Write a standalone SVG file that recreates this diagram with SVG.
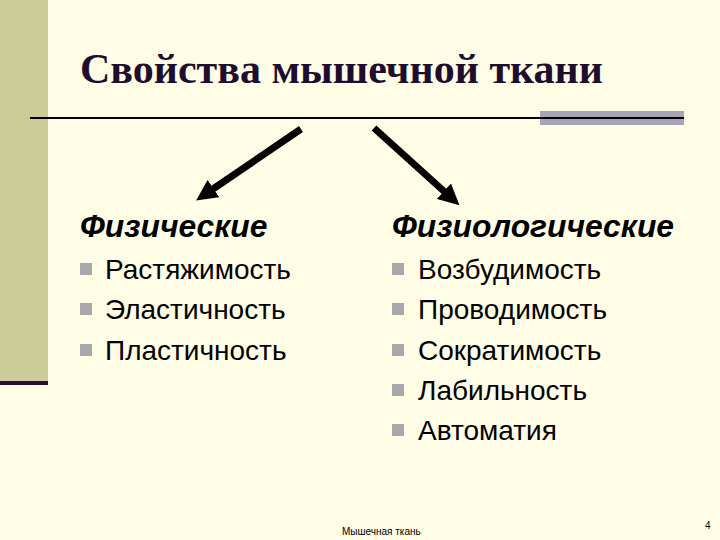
<svg xmlns="http://www.w3.org/2000/svg" width="720" height="540" viewBox="0 0 720 540">
<style>
.title{font-family:"Liberation Serif",serif;font-weight:bold;font-size:42px;fill:#1e0d2c}
.head{font-family:"Liberation Sans",sans-serif;font-weight:bold;font-style:italic;font-size:31.8px;fill:#000}
.item{font-family:"Liberation Sans",sans-serif;font-size:28px;fill:#000}
.small{font-family:"Liberation Sans",sans-serif;font-size:10px;fill:#000}
.bul{fill:#a8a8a8}
.arrow{stroke:#000;stroke-width:7;fill:none}
</style>
<defs>
<marker id="ah" viewBox="0 0 10 10" refX="2" refY="5" markerWidth="3" markerHeight="3" orient="auto" markerUnits="strokeWidth">
<path d="M0,0 L10,5 L0,10 z" fill="#000"/>
</marker>
</defs>
<rect width="720" height="540" fill="#fffde6"/>
<rect x="0" y="0" width="48" height="382" fill="#cccc99"/>
<rect x="0" y="381" width="48" height="4" fill="#2a0f30"/>
<rect x="540" y="111" width="144" height="14" fill="#a8a4b8"/>
<line x1="30" y1="118" x2="684" y2="118" stroke="#000" stroke-width="2"/>
<g id="title"><text class="title" x="80" y="83">Свойства мышечной ткани</text></g>
<g id="connectors">
<line class="arrow" x1="301" y1="129" x2="210" y2="191" marker-end="url(#ah)"/>
<line class="arrow" x1="374" y1="128" x2="447" y2="194" marker-end="url(#ah)"/>
</g>
<g id="physical">
<text class="head" x="80" y="237">Физические</text>
<rect class="bul" x="80" y="263" width="12" height="12"/>
<text class="item" x="105" y="279">Растяжимость</text>
<rect class="bul" x="80" y="303" width="12" height="12"/>
<text class="item" x="105" y="319">Эластичность</text>
<rect class="bul" x="80" y="344" width="12" height="12"/>
<text class="item" x="105" y="360">Пластичность</text>
</g>
<g id="physiological">
<text class="head" x="392" y="237">Физиологические</text>
<rect class="bul" x="392" y="263" width="12" height="12"/>
<text class="item" x="418" y="279">Возбудимость</text>
<rect class="bul" x="392" y="303" width="12" height="12"/>
<text class="item" x="418" y="319">Проводимость</text>
<rect class="bul" x="392" y="344" width="12" height="12"/>
<text class="item" x="418" y="360">Сократимость</text>
<rect class="bul" x="392" y="384" width="12" height="12"/>
<text class="item" x="418" y="400">Лабильность</text>
<rect class="bul" x="392" y="424" width="12" height="12"/>
<text class="item" x="418" y="440">Автоматия</text>
</g>
<g id="footer">
<text class="small" x="342" y="535">Мышечная ткань</text>
<text class="small" x="705" y="529">4</text>
</g>
</svg>
